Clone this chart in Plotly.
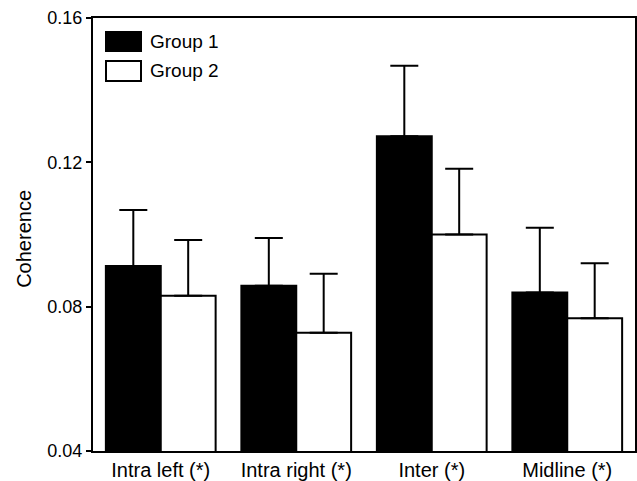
import plotly.graph_objects as go

categories = ["Intra left (*)", "Intra right (*)", "Inter (*)", "Midline (*)"]
group1 = [0.0913, 0.0858, 0.1272, 0.0839]
group1_err = [0.0155, 0.0132, 0.0196, 0.0180]
group2 = [0.0830, 0.0728, 0.1000, 0.0768]
group2_err = [0.0155, 0.0163, 0.0182, 0.0152]
y_ticks = [0.04, 0.08, 0.12, 0.16]
y_tick_labels = ["0.04", "0.08", "0.12", "0.16"]
legend_names = ["Group 1", "Group 2"]

FONT = "Liberation Sans, Arial, sans-serif"

fig = go.Figure()
for vals, errs, col, name in [(group1, group1_err, "black", legend_names[0]),
                              (group2, group2_err, "white", legend_names[1])]:
    fig.add_trace(go.Bar(
        x=categories, y=vals, name=name,
        marker=dict(color=col, line=dict(color="black", width=2)),
        error_y=dict(type="data", symmetric=False, array=errs,
                     arrayminus=[0] * len(errs), color="black",
                     thickness=2, width=14),
        showlegend=False,
    ))

# legend drawn manually (large swatches like the reference)
px_w, px_h = 542, 433
def px_x(p):
    return (p - 93) / px_w
def px_y(p):
    return 1 - (p - 18) / px_h

swatches = [("black", 32, 51), ("white", 61, 81)]
for (col, y0, y1), name in zip(swatches, legend_names):
    fig.add_shape(type="rect", xref="paper", yref="paper",
                  x0=px_x(106), x1=px_x(141), y0=px_y(y1), y1=px_y(y0),
                  fillcolor=col, line=dict(color="black", width=2))
    fig.add_annotation(xref="paper", yref="paper", x=px_x(148),
                       y=px_y((y0 + y1) / 2), text=name, showarrow=False,
                       xanchor="left", yanchor="middle",
                       font=dict(family=FONT, size=19, color="black"))

fig.add_annotation(xref="paper", yref="paper", x=px_x(24), y=0.49,
                   text="Coherence", textangle=-90, showarrow=False,
                   xanchor="center", yanchor="middle",
                   font=dict(family=FONT, size=20, color="black"))

fig.update_layout(
    width=637, height=481,
    margin=dict(l=93, r=2, t=18, b=30, autoexpand=False),
    paper_bgcolor="white", plot_bgcolor="white",
    barmode="group", bargap=0.19, bargroupgap=0,
    font=dict(family=FONT, size=18, color="black"),
)
fig.update_xaxes(showline=True, linecolor="black", linewidth=2, mirror=True,
                 ticks="", showgrid=False, range=[-0.5, 3.5],
                 automargin=False, tickfont=dict(size=20))
fig.update_yaxes(showline=True, linecolor="black", linewidth=2, mirror=True,
                 ticks="outside", ticklen=5, tickwidth=2, tickcolor="black",
                 showgrid=False, zeroline=False, range=[0.04, 0.16],
                 automargin=False, tickvals=y_ticks, ticktext=y_tick_labels,
                 tickfont=dict(size=18))

fig.write_html("out.html")
